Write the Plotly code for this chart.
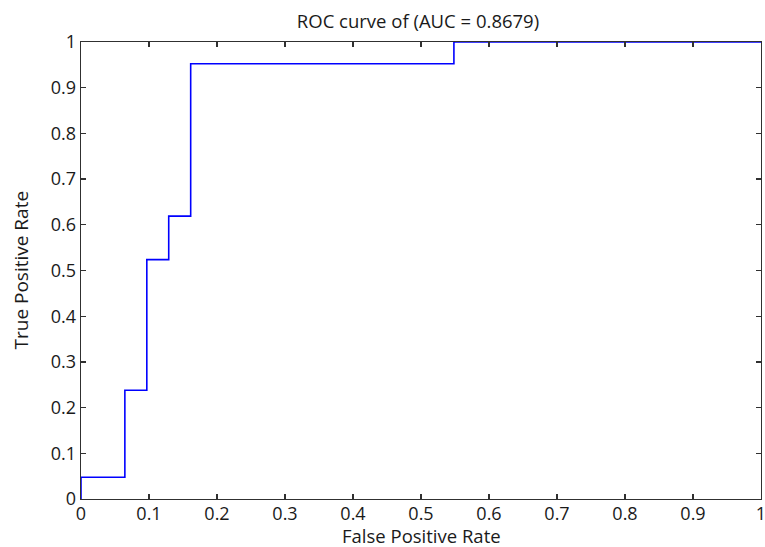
import plotly.graph_objects as go

fpr = [0, 0, 0.0645, 0.0968, 0.1290, 0.1613, 0.5484, 1.0]
tpr = [0, 0.0476, 0.2381, 0.5238, 0.6190, 0.9524, 1.0, 1.0]
x_ticks = [0, 0.1, 0.2, 0.3, 0.4, 0.5, 0.6, 0.7, 0.8, 0.9, 1]
y_ticks = [0, 0.1, 0.2, 0.3, 0.4, 0.5, 0.6, 0.7, 0.8, 0.9, 1]
x_labels = ["0", "0.1", "0.2", "0.3", "0.4", "0.5", "0.6", "0.7", "0.8", "0.9", "1"]
y_labels = ["0", "0.1", "0.2", "0.3", "0.4", "0.5", "0.6", "0.7", "0.8", "0.9", "1"]

font = "Open Sans, Liberation Sans, sans-serif"
axcol = "#303030"
txtcol = "#1a1a1a"

fig = go.Figure()
fig.add_trace(go.Scatter(x=fpr, y=tpr, mode="lines", line=dict(color="#0000FF", width=1.6, shape="hv"),
                         showlegend=False, hoverinfo="skip", cliponaxis=False))

axis_common = dict(showgrid=False, zeroline=False, showline=True, linecolor=axcol, linewidth=1.3,
                   mirror="ticks", ticks="inside", ticklen=5, tickwidth=1.3, tickcolor=axcol,
                   automargin=False, ticklabeloverflow="allow",
                   tickfont=dict(family=font, size=18, color=txtcol))

plot_w, plot_h = 680, 457

fig.update_layout(
    width=765, height=547,
    margin=dict(l=81, r=4, t=42, b=48),
    paper_bgcolor="white", plot_bgcolor="white",
    title=dict(text="ROC curve of (AUC = 0.8679)", x=418 / 765, xref="container", xanchor="center",
               y=1 - 22 / 547, yref="container", yanchor="middle",
               font=dict(family=font, size=18.5, color=txtcol)),
    xaxis=dict(range=[0, 1], tickvals=x_ticks, ticktext=x_labels, ticklabelstandoff=-2, **axis_common),
    yaxis=dict(range=[0, 1], tickvals=y_ticks, ticktext=y_labels, **axis_common),
    annotations=[
        dict(text="False Positive Rate", xref="paper", yref="paper", x=0.5, y=-36.5 / plot_h,
             xanchor="center", yanchor="middle", showarrow=False,
             font=dict(family=font, size=18.5, color=txtcol)),
        dict(text="True Positive Rate", xref="paper", yref="paper", x=-61 / plot_w, y=0.5,
             xanchor="center", yanchor="middle", showarrow=False, textangle=-90,
             font=dict(family=font, size=19, color=txtcol)),
    ],
)
fig.write_html("out.html", config={"displayModeBar": False, "staticPlot": True},
               post_script="document.body.style.margin='0';document.body.style.overflow='hidden';")
